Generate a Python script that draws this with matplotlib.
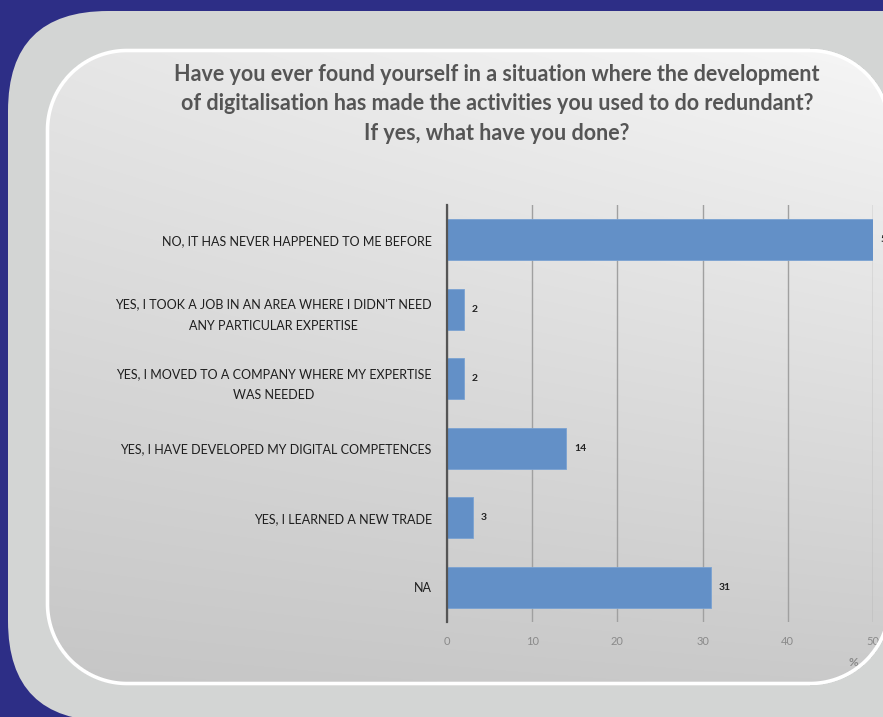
import numpy as np
import matplotlib
matplotlib.use("Agg")
import matplotlib.pyplot as plt
from matplotlib.patches import FancyBboxPatch

# Survey answers (percent of respondents)
categories = [
    "NO, IT HAS NEVER HAPPENED TO ME BEFORE",
    "YES, I TOOK A JOB IN AN AREA WHERE I DIDN'T NEED\nANY PARTICULAR EXPERTISE",
    "YES, I MOVED TO A COMPANY WHERE MY EXPERTISE\nWAS NEEDED",
    "YES, I HAVE DEVELOPED MY DIGITAL COMPETENCES",
    "YES, I LEARNED A NEW TRADE",
    "NA",
]
values = [50, 2, 2, 14, 3, 31]
x_ticks = [0, 10, 20, 30, 40, 50]
title = ("Have you ever found yourself in a situation where the development\n"
         "of digitalisation has made the activities you used to do redundant?\n"
         "If yes, what have you done?")

W, H = 883, 717
fig = plt.figure(figsize=(W / 100, H / 100), dpi=100)
fig.patch.set_facecolor("#2d2e86")

# background layer in pixel coordinates
bg = fig.add_axes([0, 0, 1, 1], zorder=0)
bg.axis("off")

outer_top = 11
outer = FancyBboxPatch((8, outer_top), 1100, 710, boxstyle="round,pad=0,rounding_size=100",
                       facecolor="#d3d5d4", edgecolor="none", zorder=0)
bg.add_patch(outer)

# inner panel: rounded rectangle (signed distance field) with a soft grey gradient
ix0, iy0, ix1, iy1, rad = 47, 50, 890, 684, 80
px = np.arange(W) + 0.5
py = np.arange(H) + 0.5
PX, PY = np.meshgrid(px, py)
ccx, ccy = (ix0 + ix1) / 2, (iy0 + iy1) / 2
hx, hy = (ix1 - ix0) / 2 - rad, (iy1 - iy0) / 2 - rad
qx = np.abs(PX - ccx) - hx
qy = np.abs(PY - ccy) - hy
sdf = (np.hypot(np.maximum(qx, 0), np.maximum(qy, 0))
       + np.minimum(np.maximum(qx, qy), 0) - rad)

u = np.clip((PX - ix0) / (ix1 - ix0), 0, 1)
v = np.clip((PY - iy0) / (iy1 - iy0), 0, 1)
shade = (230 + 16 * u - 32 * v - 12 * u * v) / 255.0
fill_alpha = np.clip(0.5 - sdf, 0, 1)
bg.imshow(np.dstack([shade, shade, shade, fill_alpha]), extent=(0, W, H, 0),
          aspect="auto", zorder=1, interpolation="bilinear")
bg.set_xlim(0, W)
bg.set_ylim(H, 0)

# chart axes
x0_px, x50_px = 447, 873
top_px, bot_px = 205, 622
ax = fig.add_axes([x0_px / W, 1 - bot_px / H, (x50_px - x0_px) / W, (bot_px - top_px) / H],
                  zorder=1)
ax.set_facecolor("none")
ypos = np.arange(len(categories))
bars = ax.barh(ypos, values, height=0.59, color="#6390c7", edgecolor="#7aa2d2",
               linewidth=0.6, zorder=3)
ax.set_xlim(0, 50)
ax.set_ylim(len(categories) - 0.5, -0.5)
ax.set_xticks(x_ticks)
ax.set_xticklabels([str(t) for t in x_ticks], color="#8a8a8a", fontsize=8,
                   family="Lato")
ax.tick_params(axis="x", length=0, pad=10)
ax.set_yticks(ypos)
ax.set_yticklabels(categories, fontsize=9, family="Lato", color="#1e1e1e",
                   linespacing=1.95)
for t in ax.get_yticklabels():
    t.set_multialignment("center")
ax.tick_params(axis="y", length=0, pad=11)
ax.grid(axis="x", color="#a0a0a0", linewidth=1.0, zorder=0)
for side in ["top", "right", "bottom"]:
    ax.spines[side].set_visible(False)
ax.spines["left"].set_color("#555555")
ax.spines["left"].set_linewidth(1.6)
ax.spines["left"].set_zorder(4)

for b, val in zip(bars, values):
    ax.text(b.get_width() + 0.9, b.get_y() + b.get_height() / 2, str(val),
            va="center", ha="left", fontsize=7.5, fontweight="bold",
            family="Lato", color="#222222", clip_on=False)

fig.text(853 / W, 1 - 662 / H, "%", fontsize=8.5, color="#8a8a8a", family="Lato",
         fontweight="bold", ha="center", va="center")

fig.text(497 / W, 1 - 104 / H, title, ha="center", va="center", multialignment="center",
         fontsize=15.5, fontweight="bold", family="Lato", color="#555555", linespacing=1.5)

# white rim of the inner panel, drawn above the chart; outside the rim the outer grey
# panel shows again
top = fig.add_axes([0, 0, 1, 1], zorder=5)
top.axis("off")
ring_alpha = np.clip(2.3 - np.abs(sdf + 0.5), 0, 1)
outside_alpha = np.clip(sdf - 1.5, 0, 1)
outer_rgb = np.array([0xd3, 0xd5, 0xd4]) / 255.0
ring_rgba = np.zeros((H, W, 4))
ring_rgba[..., :3] = 1.0
ring_rgba[..., 3] = ring_alpha
# grey beyond the rim on the right keeps labels running past the panel edge hidden
out_mask = (outside_alpha > 0) & (PX > 700) & (PY > outer_top)
ring_rgba[out_mask, :3] = outer_rgb
ring_rgba[out_mask, 3] = np.maximum(ring_alpha[out_mask], outside_alpha[out_mask])
top.imshow(ring_rgba, extent=(0, W, H, 0), aspect="auto", interpolation="bilinear")
top.set_xlim(0, W)
top.set_ylim(H, 0)

fig.savefig("out.png", dpi=100, facecolor=fig.get_facecolor())
